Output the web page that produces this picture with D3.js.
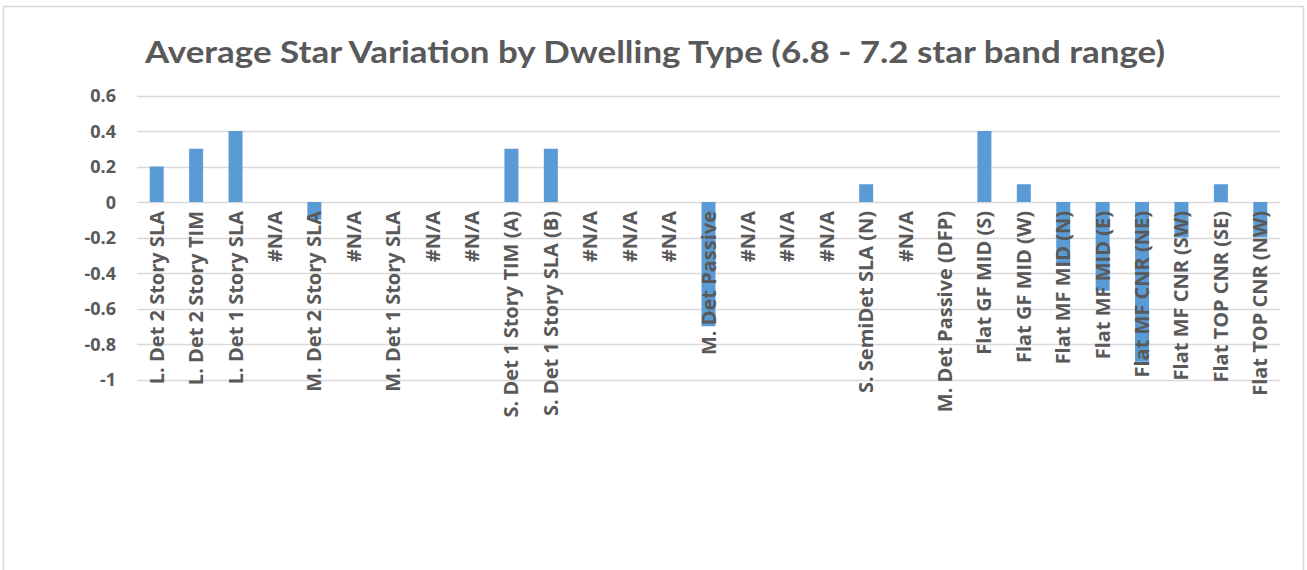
<!DOCTYPE html>
<html><head><meta charset="utf-8">
<script src="https://cdn.jsdelivr.net/npm/d3@7"></script>
<style>body{margin:0;background:#fff}svg{display:block}</style>
</head><body>
<script>
const categories = ["L. Det 2 Story SLA","L. Det 2 Story TIM","L. Det 1 Story SLA","#N/A","M. Det 2 Story SLA","#N/A","M. Det 1 Story SLA","#N/A","#N/A","S. Det 1 Story TIM (A)","S. Det 1 Story SLA (B)","#N/A","#N/A","#N/A","M. Det Passive","#N/A","#N/A","#N/A","S. SemiDet SLA (N)","#N/A","M. Det Passive (DFP)","Flat GF MID (S)","Flat GF MID (W)","Flat MF MID (N)","Flat MF MID (E)","Flat MF CNR (NE)","Flat MF CNR (SW)","Flat TOP CNR (SE)","Flat TOP CNR (NW)"];
const values = [0.2,0.3,0.4,0,-0.1,0,0,0,0,0.3,0.3,0,0,0,-0.7,0,0,0,0.1,0,0,0.4,0.1,-0.36,-0.5,-0.9,-0.2,0.1,-0.2];
const yTicks = [0.6,0.4,0.2,0,-0.2,-0.4,-0.6,-0.8,-1];
const title = "Average Star Variation by Dwelling Type (6.8 - 7.2 star band range)";

const W = 1307, H = 570;
const FONT = "'Open Sans', Lato, sans-serif";
const svg = d3.select("body").append("svg").attr("width", W).attr("height", H);
svg.append("rect").attr("x",3.5).attr("y",6.5).attr("width",1300).attr("height",580)
  .attr("fill","#fff").attr("stroke","#d9d9d9").attr("stroke-width",1.5);

const x = d3.scaleBand().domain(d3.range(categories.length)).range([137,1280]).paddingInner(0.645).paddingOuter(0.3225);
const y = d3.scaleLinear().domain([-1,0.6]).range([379.5,95.5]);

svg.append("text").attr("x",655).attr("y",63).attr("text-anchor","middle")
  .attr("font-family","Lato, 'Open Sans', sans-serif").attr("font-weight","bold")
  .attr("font-size",30).attr("fill","#595959").attr("textLength",1020).attr("lengthAdjust","spacingAndGlyphs").text(title);

const grid = svg.append("g");
grid.selectAll("line").data(yTicks).join("line")
  .attr("x1",137).attr("x2",1280).attr("y1",d=>Math.round(y(d))+0.5).attr("y2",d=>Math.round(y(d))+0.5)
  .attr("stroke","#d9d9d9").attr("stroke-width",1.3);

const yAxis = svg.append("g").attr("transform","translate(116,0)")
  .call(d3.axisLeft(y).tickValues(yTicks).tickSize(0).tickFormat(d=>String(d)));
yAxis.select(".domain").remove();
yAxis.selectAll("text").attr("font-family",FONT).attr("font-weight","bold")
  .attr("font-size",18).attr("fill","#595959").attr("dy","0.36em").attr("x",0);

svg.append("g").selectAll("rect").data(values).join("rect")
  .attr("x",(d,i)=>x(i)).attr("width",x.bandwidth())
  .attr("y",d=>y(Math.max(0,d))).attr("height",d=>Math.abs(y(d)-y(0)))
  .attr("fill","#5b9bd5");

svg.append("g").selectAll("text").data(categories).join("text")
  .attr("transform",(d,i)=>`translate(${x(i)+x.bandwidth()/2+7},211) rotate(-90)`)
  .attr("text-anchor","end")
  .attr("font-family",FONT).attr("font-weight","bold")
  .attr("font-size",20).attr("fill","#595959").text(d=>d);
</script>
</body></html>
